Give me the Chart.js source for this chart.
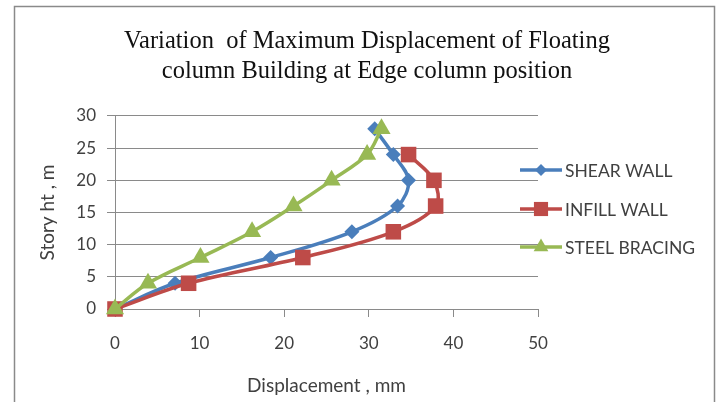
<!DOCTYPE html>
<html>
<head>
<meta charset="utf-8">
<script src="https://cdn.jsdelivr.net/npm/chart.js@4/dist/chart.umd.min.js"></script>
<style>
html,body{margin:0;padding:0;background:#fff;}
#wrap{position:relative;width:718px;height:402px;}
</style>
</head>
<body>
<div id="wrap"><canvas id="c" width="718" height="402"></canvas></div>
<script>
// Data
const storyHeights = [0, 4, 8, 12, 16, 20, 24, 28];
const shearWall    = [0, 7.1, 18.4, 28.0, 33.4, 34.7, 32.9, 30.7];
const infillWall   = [0, 8.7, 22.2, 32.9, 37.9, 37.7, 34.7];
const steelBracing = [0, 3.9, 10.1, 16.2, 21.1, 25.6, 29.8, 31.5];
const seriesNames  = ['SHEAR WALL', 'INFILL WALL', 'STEEL BRACING'];
const xTicks = [0, 10, 20, 30, 40, 50];
const yTicks = [0, 5, 10, 15, 20, 25, 30];

const COLORS = ['#4A7EBB', '#BE4B48', '#98B954'];
const STYLES = ['rectRot', 'rect', 'triangle'];
const RADII  = [7.5, 11, 10.5];
const LEG_RADII = [6, 10, 8.5];
const TXT = '#404040';
const GRID = '#8a8a8a';
const SANS = 'Lato, "Liberation Sans", sans-serif';

function toPoints(xs) { return xs.map((x, i) => ({ x: x, y: storyHeights[i] })); }

const allSeries = [shearWall, infillWall, steelBracing];
const datasets = allSeries.map((s, i) => ({
  label: seriesNames[i],
  data: toPoints(s),
  yAxisID: 'y',
  xAxisID: 'x',
  showLine: true,
  borderColor: COLORS[i],
  backgroundColor: COLORS[i],
  borderWidth: 3.5,
  tension: 0.35,
  pointStyle: STYLES[i],
  pointRadius: RADII[i],
  pointHoverRadius: RADII[i],
  pointBorderWidth: 0,
  clip: false,
  order: 3 - i
}));

const framePlugin = {
  id: 'frame',
  beforeDraw(chart) {
    const ctx = chart.ctx;
    ctx.save();
    ctx.fillStyle = '#fff';
    ctx.fillRect(0, 0, chart.width, chart.height);
    ctx.strokeStyle = '#8a8a8a';
    ctx.lineWidth = 1.5;
    ctx.strokeRect(14.5, 6.5, 700, 420);
    ctx.restore();
  }
};

const legendPlugin = {
  id: 'customLegend',
  afterDraw(chart) {
    const ctx = chart.ctx;
    const ys = [170, 209, 247];
    ctx.save();
    chart.data.datasets.forEach((ds, i) => {
      const y = ys[i];
      ctx.strokeStyle = ds.borderColor;
      ctx.lineWidth = 3.5;
      ctx.beginPath();
      ctx.moveTo(520, y);
      ctx.lineTo(562, y);
      ctx.stroke();
      ctx.fillStyle = ds.backgroundColor;
      Chart.helpers.drawPoint(ctx, { pointStyle: STYLES[i], radius: LEG_RADII[i], rotation: 0, borderWidth: 0 }, 541, y);
      ctx.fillStyle = TXT;
      ctx.font = '17.5px ' + SANS;
      ctx.textBaseline = 'middle';
      ctx.textAlign = 'left';
      ctx.fillText(ds.label, 565, y + 1);
    });
    ctx.restore();
  }
};

new Chart(document.getElementById('c'), {
  type: 'scatter',
  data: { datasets: datasets },
  plugins: [framePlugin, legendPlugin],
  options: {
    responsive: false,
    animation: false,
    layout: { padding: { left: 16, right: 0, top: 0, bottom: 0 } },
    plugins: {
      legend: { display: false },
      tooltip: { enabled: false },
      title: {
        display: true,
        text: ['Variation  of Maximum Displacement of Floating', 'column Building at Edge column position'],
        font: { family: '"Liberation Serif", "Times New Roman", serif', size: 24.5, weight: 'normal', lineHeight: 1.224 },
        color: '#111',
        padding: { top: 27, bottom: 29 }
      }
    },
    scales: {
      x: {
        type: 'linear',
        position: 'bottom',
        min: 0, max: 50,
        afterBuildTicks(axis) { axis.ticks = xTicks.map(v => ({ value: v })); },
        afterFit(scale) { scale.height = 93; },
        grid: { drawOnChartArea: false, drawTicks: true, tickLength: 8, color: GRID },
        border: { display: true, color: GRID, width: 1 },
        ticks: { color: TXT, font: { family: SANS, size: 17 }, padding: 16, maxRotation: 0 },
        title: { display: true, text: 'Displacement , mm', color: TXT, font: { family: SANS, size: 19 }, padding: { top: 0, bottom: 5 } }
      },
      y: {
        type: 'linear',
        position: 'left',
        min: 0, max: 30,
        afterBuildTicks(axis) { axis.ticks = yTicks.map(v => ({ value: v })); },
        afterFit(scale) { scale.width = 99; },
        grid: { drawOnChartArea: true, drawTicks: true, tickLength: 8, color: GRID },
        border: { display: true, color: GRID, width: 1 },
        ticks: { color: TXT, font: { family: SANS, size: 17 }, padding: 11 },
        title: { display: true, text: 'Story ht , m', color: TXT, font: { family: SANS, size: 19 }, padding: { top: 20.5, bottom: 0 } }
      },
      pad: {
        type: 'linear',
        position: 'right',
        display: true,
        afterFit(scale) { scale.width = 180; },
        grid: { display: false, drawTicks: false },
        border: { display: false },
        ticks: { display: false },
        title: { display: false }
      }
    }
  }
});
</script>
</body>
</html>
